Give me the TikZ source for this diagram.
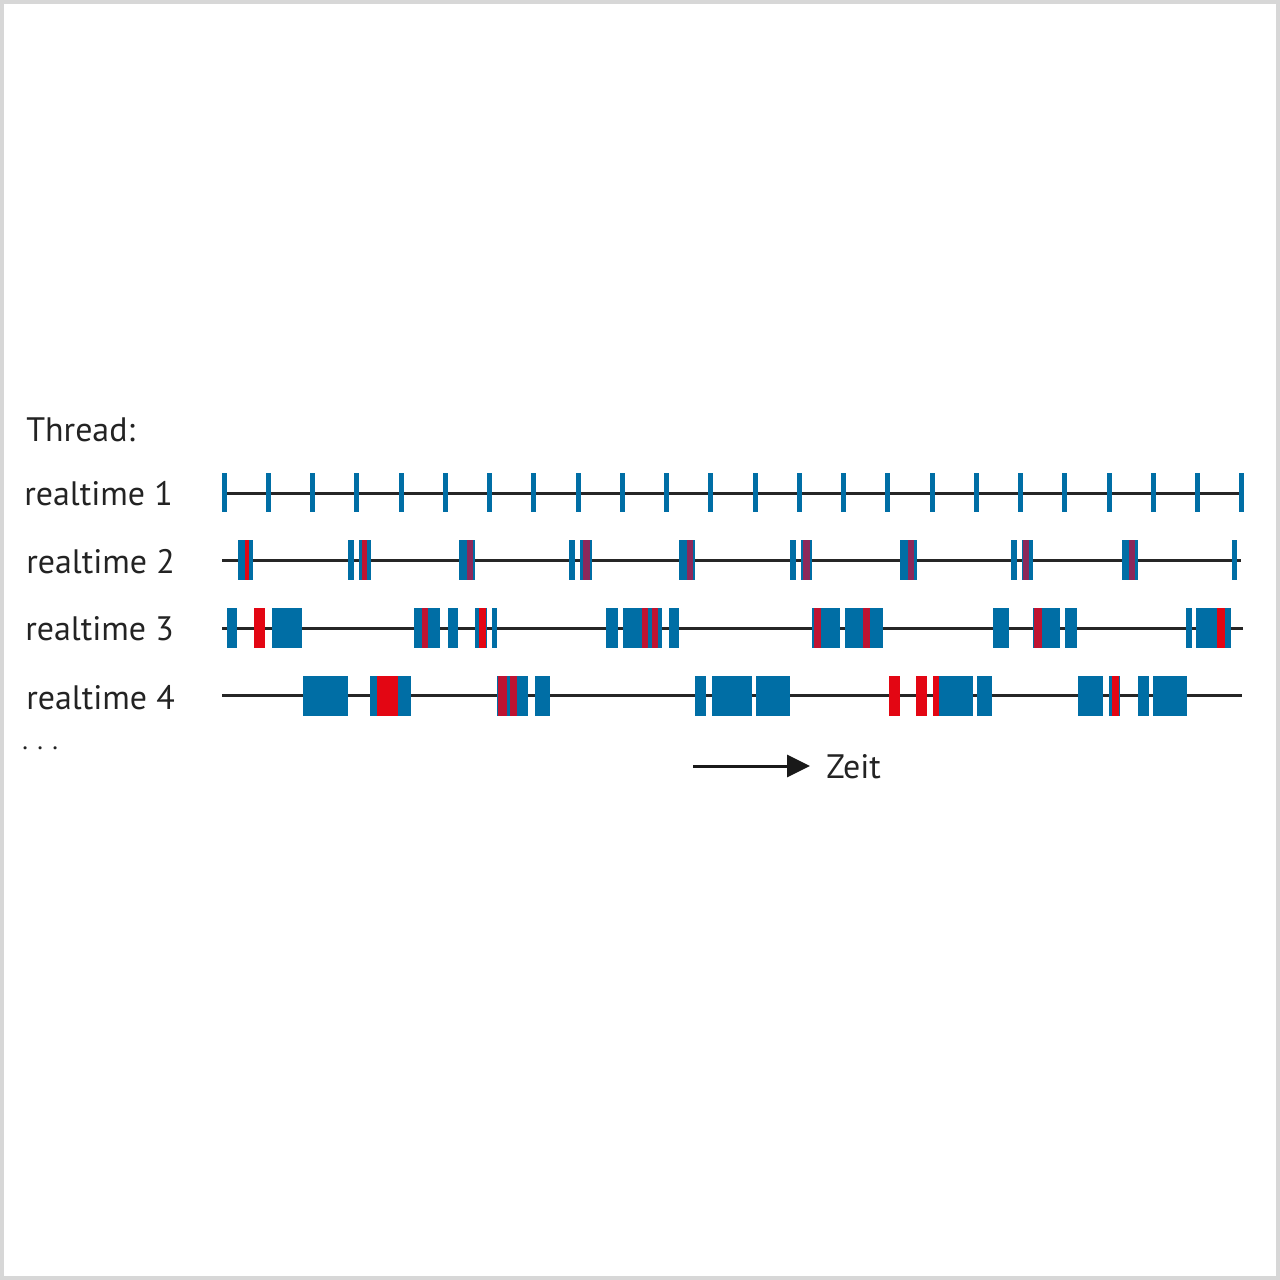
\documentclass[tikz,border=0pt]{standalone}
\usepackage{fontspec}
\setmainfont{PT Sans}
\usetikzlibrary{arrows.meta}
\definecolor{blueC}{RGB}{0,110,165}
\definecolor{redC}{RGB}{227,6,19}
\definecolor{stripeC}{RGB}{190,20,50}
\definecolor{purpC}{RGB}{140,40,90}
\definecolor{txtC}{RGB}{35,35,35}
\definecolor{frameC}{RGB}{215,215,215}
\newcommand\myblk[3]{\fill[blueC] (#1,#3-20) rectangle (#2,#3+20);}
\newcommand\myred[3]{\fill[redC] (#1,#3-20) rectangle (#2,#3+20);}
\newcommand\mystr[3]{\fill[stripeC] (#1,#3-20) rectangle (#2,#3+20);}
\newcommand\mypur[3]{\fill[purpC] (#1,#3-20) rectangle (#2,#3+20);}
\begin{document}
\begin{tikzpicture}[x=0.2mm,y=-0.2mm,
  lbl/.style={anchor=west,inner sep=0pt,text=txtC,font=\fontsize{19.3}{21}\selectfont},
  axis/.style={line width=1.7pt,draw=black!85}]
\useasboundingbox (0,0) rectangle (1280,1280);
\fill[white] (0,0) rectangle (1280,1280);
\draw[frameC,line width=2.5pt] (1.5,1.5) rectangle (1278.5,1278.5);
% labels
\node[lbl] (thr) at (26,430) {Thread:};
\node[lbl] (r1) at (24,494) {realtime 1};
\node[lbl] (r2) at (26,562) {realtime 2};
\node[lbl] (r3) at (25,629) {realtime 3};
\node[lbl] (r4) at (26,698) {realtime 4};
\node[lbl,font=\fontsize{15}{17}\selectfont] (dots) at (22,748) {. . .};
% row 1
\coordinate (a1) at (222,493); \coordinate (b1) at (1241,493);
\draw[axis] (a1) -- (b1);
\foreach \i in {0,...,23} {
  \fill[blueC] ({224+\i*44.26-2.5},473) rectangle ({224+\i*44.26+2.5},512);
}
% row 2
\coordinate (a2) at (222,560); \coordinate (b2) at (1241,560);
\draw[axis] (a2) -- (b2);
\myblk{238}{253}{560}\myred{245}{249}{560}
\myblk{348}{354}{560}\myblk{359}{371}{560}\mystr{362}{367}{560}
\myblk{459}{475}{560}\mypur{467}{473}{560}
\myblk{569}{575}{560}\myblk{580}{592}{560}\mypur{583}{590}{560}
\myblk{679}{695}{560}\mypur{687}{693}{560}
\myblk{790}{796}{560}\myblk{801}{812}{560}\mypur{803}{810}{560}
\myblk{900}{917}{560}\mypur{908}{914}{560}
\myblk{1011}{1017}{560}\myblk{1022}{1033}{560}\mypur{1023}{1029}{560}
\myblk{1122}{1138}{560}\mypur{1129}{1135}{560}
\myblk{1232}{1237}{560}
% row 3
\coordinate (a3) at (222,628); \coordinate (b3) at (1243,628);
\draw[axis] (a3) -- (b3);
\myblk{227}{237}{628}
\myred{254}{265}{628}
\myblk{272}{302}{628}
\myblk{414}{440}{628}\mystr{422}{428}{628}
\myblk{448}{458}{628}
\myblk{475}{487}{628}\myred{479}{486}{628}
\myblk{492}{497}{628}
\myblk{606}{618}{628}
\myblk{623}{662}{628}\mystr{642}{648}{628}\mystr{652}{658}{628}
\myblk{669}{679}{628}
\myblk{812}{840}{628}\mystr{814}{821}{628}
\myblk{845}{883}{628}\mystr{863}{870}{628}
\myblk{993}{1009}{628}
\myblk{1033}{1060}{628}\mystr{1034}{1042}{628}
\myblk{1065}{1077}{628}
\myblk{1186}{1192}{628}
\myblk{1196}{1231}{628}\myred{1217}{1225}{628}
% row 4
\coordinate (a4) at (222,695); \coordinate (b4) at (1242,695);
\draw[axis] (a4) -- (b4);
\myblk{303}{348}{696}
\myblk{370}{411}{696}\myred{377}{398}{696}
\myblk{497}{528}{696}\mystr{498}{507}{696}\mystr{510}{517}{696}
\myblk{535}{550}{696}
\myblk{695}{706}{696}
\myblk{712}{752}{696}
\myblk{756}{790}{696}
\myred{889}{900}{696}
\myred{916}{927}{696}
\myred{933}{939}{696}\myblk{939}{973}{696}
\myblk{977}{992}{696}
\myblk{1078}{1103}{696}
\myblk{1109}{1120}{696}\myred{1112}{1119}{696}
\myblk{1138}{1149}{696}
\myblk{1153}{1187}{696}
% time arrow
\coordinate (ta) at (693,766);
\node[lbl] (zeit) at (826,767) {Zeit};
\coordinate (te) at (810,766);
\draw[line width=1.7pt,black!90,-{Triangle[length=23*0.2mm,width=22*0.2mm]}] (ta) -- (te);
\end{tikzpicture}
\end{document}
